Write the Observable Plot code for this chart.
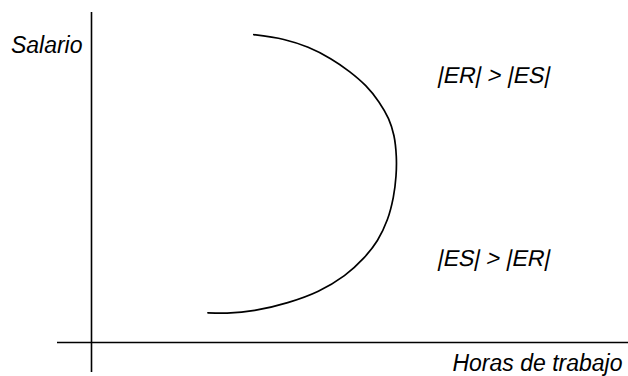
<!DOCTYPE html>
<html>
<head>
<meta charset="utf-8">
<script src="https://cdn.jsdelivr.net/npm/d3@7"></script>
<script src="https://cdn.jsdelivr.net/npm/@observablehq/plot@0.6"></script>
<style>
  html, body { margin: 0; padding: 0; background: #fff; }
  svg { display: block; }
</style>
</head>
<body>
<div id="chart"></div>
<script>
// Backward-bending labour supply curve (hours, wage)
const hours = [54.1, 64.1, 72.2, 79.7, 86.0, 91.4, 95.8, 99.0, 100.8, 101.6, 101.5, 100.6, 98.6, 95.3, 90.8, 84.3, 75.6, 65.4, 54.4, 45.2, 38.8];
const wage  = [102.6, 101.0, 98.4, 94.6, 90.3, 85.6, 80.2, 74.6, 69.0, 62.0, 55.5, 48.4, 40.9, 34.0, 28.2, 22.3, 17.1, 13.3, 10.7, 9.8, 9.9];
const yLabel = "Salario";
const xLabel = "Horas de trabajo";
const regionLabels = ["|ER| > |ES|", "|ES| > |ER|"];

const curve = hours.map((h, i) => ({h, w: wage[i]}));

const font = "Liberation Sans, Arial, sans-serif";

const chart = Plot.plot({
  width: 628,
  height: 376,
  marginTop: 12,
  marginBottom: 4,
  marginLeft: 57,
  marginRight: 0,
  x: {domain: [-34 / 3, 537 / 3], axis: null},
  y: {domain: [-10, 110], axis: null},
  style: {fontFamily: font, background: "#fff"},
  marks: [
    Plot.ruleX([0], {stroke: "#000", strokeWidth: 1.6}),
    Plot.ruleY([0], {stroke: "#000", strokeWidth: 1.6}),
    Plot.line(curve, {x: "h", y: "w", curve: "catmull-rom", stroke: "#000", strokeWidth: 1.7}),
    Plot.text([yLabel], {x: -3, y: 99.1, text: d => d, textAnchor: "end", fontSize: 23, fontStyle: "italic", fill: "#000"}),
    Plot.text([xLabel], {x: 177, y: -6.9, text: d => d, textAnchor: "end", fontSize: 23, fontStyle: "italic", fill: "#000"}),
    Plot.text([regionLabels[0]], {x: 115.5, y: 88.8, text: d => d, textAnchor: "start", fontSize: 23, fill: "#000", className: "skew"}),
    Plot.text([regionLabels[1]], {x: 115.5, y: 27.8, text: d => d, textAnchor: "start", fontSize: 23, fill: "#000", className: "skew"})
  ]
});
// oblique slant for the labels with bars (so the "|" leans like in the reference)
chart.querySelectorAll(".skew text").forEach(t => {
  const tr = t.getAttribute("transform") || "";
  t.setAttribute("transform", (tr + " skewX(-12)").trim());
});
document.getElementById("chart").appendChild(chart);
</script>
</body>
</html>
